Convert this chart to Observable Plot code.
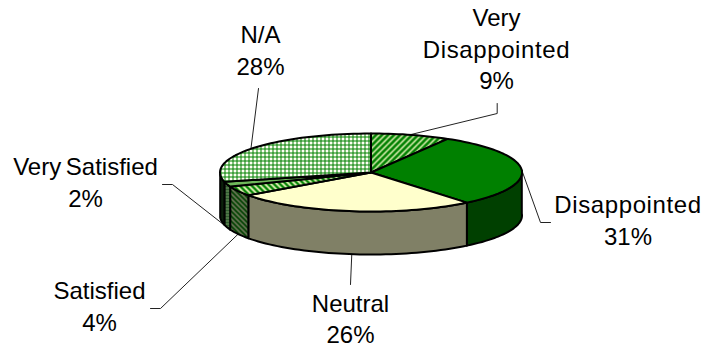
<!DOCTYPE html>
<html>
<head>
<meta charset="utf-8">
<script src="https://cdn.jsdelivr.net/npm/d3@7"></script>
<script src="https://cdn.jsdelivr.net/npm/@observablehq/plot@0.6"></script>
<style>
  html, body { margin: 0; padding: 0; background: #fff; }
  svg { display: block; }
</style>
</head>
<body>
<div id="chart"></div>
<script>
// Survey responses, clockwise from twelve o'clock.
const names = ["Very Disappointed", "Disappointed", "Neutral", "Satisfied", "Very Satisfied", "N/A"];
const shares = [9, 31, 26, 4, 2, 28];

// Text wrapping and fills for each response.
const labelNames = ["Very\nDisappointed", "Disappointed", "Neutral", "Satisfied", "Very Satisfied", "N/A"];
const topFills = ["url(#stripeUp)", "#008000", "#ffffcc", "url(#stripeDown)", "#6fb85a", "url(#grid)"];
const wallFills = ["#004000", "#004000", "#808066", "url(#wallStripe)", "url(#wallFine)", "#0a200a"];

// Placement of the text blocks and leader elbows, in page pixels.
const labelX = [496, 627.5, 350, 99, 85, 260];
const labelY = [46.8, 218.3, 316.8, 304, 180.5, 48.2];
const leaderElbows = [
  [[496.7, 113], [496.7, 103]],
  [[540, 222], [550, 222]],
  [[350, 284]],
  [[160, 308], [150, 308]],
  [[172, 184], [162, 184]],
  [[258, 88]]
];

// Pie geometry in page pixels.
const W = 705, H = 348;
const cx = 370.5, cy = 172, rx = 151, ry = 39, depth = 43;
const rad = (deg) => deg * Math.PI / 180;

// The tilted view pulls slice edges slightly towards twelve o'clock.
const view = (deg) => deg - 3.5 * Math.sqrt(Math.abs(Math.sin(rad(deg / 2))));
const rimPoint = (deg, drop = 0) => {
  const a = rad(view(deg));
  return {x: cx + rx * Math.sin(a), y: cy - ry * Math.cos(a) + drop};
};
const arc = (from, to, drop = 0) => {
  const steps = Math.max(2, Math.ceil((to - from) / 2));
  return d3.range(steps + 1).map((i) => rimPoint(from + (to - from) * i / steps, drop));
};

// Cumulative slice angles, taken from the shares.
let running = 0;
const slices = names.map((name, i) => {
  const start = running * 3.6;
  running += shares[i];
  return {name, i, start, end: running * 3.6, mid: (start + running * 3.6) / 2};
});

const topRing = (s) => {
  const centre = {x: cx, y: cy};
  return [centre, ...arc(s.start, s.end), centre];
};
const wallRing = (s) => {
  const a = Math.max(s.start, 90), b = Math.min(s.end, 270);
  if (a >= b) return null;
  const upper = arc(a, b), lower = arc(a, b, depth).reverse();
  return [...upper, ...lower, upper[0]];
};

const leaderPath = (s) => {
  const front = s.mid > 90 && s.mid < 270;
  return [rimPoint(s.mid, front ? depth : 0), ...leaderElbows[s.i].map(([x, y]) => ({x, y}))];
};

// Hatch patterns used by the slice fills.
function patterns() {
  const defs = d3.create("svg:defs");
  const add = (id, size, bg, stroke, width, d) => {
    const p = defs.append("pattern").attr("id", id)
      .attr("patternUnits", "userSpaceOnUse").attr("width", size).attr("height", size);
    p.append("rect").attr("width", size).attr("height", size).attr("fill", bg);
    p.append("path").attr("d", d).attr("stroke", stroke).attr("stroke-width", width).attr("fill", "none");
  };
  add("stripeUp", 6, "#ffffcc", "#008000", 3, "M-1 7L7 -1M-1 1L1 -1M5 7L7 5");
  add("stripeDown", 6, "#ffffcc", "#008000", 2.6, "M-1 -1L7 7M-1 5L1 7M5 -1L7 1");
  add("wallStripe", 5, "#808066", "#004000", 2, "M-1 -1L6 6M-1 4L1 6M4 -1L6 1");
  add("wallFine", 3, "#2f5c2f", "#6f8f5f", 1, "M0 1.5H3");
  add("grid", 4, "#fffff4", "#008000", 1, "M0 .5H4M.5 0V4");
  return defs.node();
}

const stroke = {stroke: "#000", strokeWidth: 2, strokeLinejoin: "round"};
const chart = Plot.plot({
  width: W,
  height: H,
  margin: 0,
  x: {domain: [0, W], range: [0, W], axis: null},
  y: {domain: [0, H], range: [0, H], axis: null},
  marks: [
    patterns,
    ...slices.map((s) => Plot.line(leaderPath(s), {x: "x", y: "y", stroke: "#222", strokeWidth: 1})),
    ...slices.filter(wallRing).map((s) =>
      Plot.line(wallRing(s), {x: "x", y: "y", fill: wallFills[s.i], ...stroke})),
    ...slices.map((s) =>
      Plot.line(topRing(s), {x: "x", y: "y", fill: topFills[s.i], ...stroke})),
    Plot.text(slices, {
      x: (s) => labelX[s.i],
      y: (s) => labelY[s.i],
      text: (s) => `${labelNames[s.i]}\n${shares[s.i]}%`,
      lineAnchor: "middle",
      textAnchor: "middle",
      lineHeight: 1.33,
      fontSize: 24,
      fontFamily: "Liberation Sans, Arial, sans-serif",
      fill: "#000"
    })
  ]
});

// The long word is set slightly looser and the word gap slightly tighter.
d3.select(chart).selectAll("text tspan, text").each(function () {
  const own = this.childNodes.length === 1 && this.firstChild.nodeType === 3 ? this.textContent : "";
  if (own.includes("Disappointed")) this.style.letterSpacing = "0.6px";
  if (own.includes("Very Satisfied")) this.style.wordSpacing = "-2px";
});
document.getElementById("chart").append(chart);
</script>
</body>
</html>
